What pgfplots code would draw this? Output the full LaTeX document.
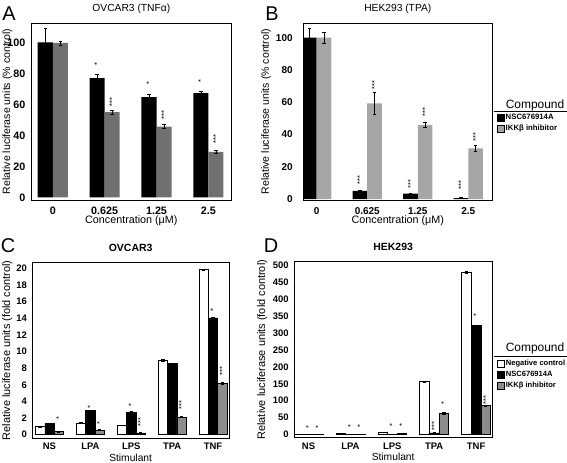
\documentclass[border=0pt]{standalone}
\usepackage{fontspec}
\setmainfont{Liberation Sans}
\usepackage{pgfplots}
\pgfplotsset{compat=1.18}
\definecolor{grayA}{HTML}{707070}
\definecolor{grayB}{HTML}{A6A6A6}
\definecolor{grayC}{HTML}{8C8C8C}
\pgfplotsset{
  panel/.style={
    scale only axis, ybar,
    axis line style={line width=0.9bp},
    major tick length=0pt,
    /pgf/number format/assume math mode=true,
    enlarge x limits=false,
    title style={at={(axis description cs:0.5,1)}, anchor=center, yshift=8.5bp},
    xlabel style={at={(axis description cs:0.5,0)}, anchor=center},
    ylabel style={anchor=center},
    yticklabel style={anchor=east, inner sep=0pt},
    xticklabel style={anchor=center, inner sep=0pt},
  },
  eb/.style={error bars/y dir=both, error bars/y explicit,
    error bars/error bar style={line width=0.6bp, black},
    error bars/error mark options={rotate=90, mark size=1.7bp, line width=0.6bp, black}},
  stars/.style={draw=none, fill=none, forget plot, nodes near coords,
    point meta=explicit symbolic,
    every node near coord/.append style={rotate=90, anchor=west, inner sep=0pt,
      font=\fontsize{7.5}{7.5}\selectfont}},
  lgimg/.style={legend image code/.code={\draw[##1] (0bp,-3.5bp) rectangle (7bp,3.5bp);}},
}
\begin{document}
\begin{tikzpicture}[x=1bp,y=1bp]
\path[use as bounding box] (0,0) rectangle (567,463);

% ---------------- Panel A ----------------
\begin{axis}[panel, at={(31bp,263bp)}, anchor=south west,
  width=200.7bp, height=177bp,
  xmin=-0.42, xmax=3.45, ymin=-1.7, ymax=112.5,
  bar width=0.29,
  xtick={0,1,2,3}, xticklabels={0,0.625,1.25,2.5},
  ytick={0,20,40,60,80,100},
  tick label style={font=\bfseries\fontsize{10.8}{10.8}\selectfont},
  yticklabel style={xshift=-5.5bp},
  xticklabel style={yshift=-10.7bp},
  title={OVCAR3 (TNFα)}, title style={font=\fontsize{10.3}{10.3}\selectfont},
  xlabel={Concentration (μM)}, xlabel style={font=\fontsize{10.8}{10.8}\selectfont, yshift=-21bp},
  ylabel={Relative luciferase units (\% control)},
  ylabel style={at={(axis description cs:-0.118,0.5)}, font=\fontsize{10.6}{10.6}\selectfont},
]
\addplot[fill=black, draw=none, bar shift=-0.145, eb] table[x=x, y=y, y error=e] {
x y e
0 100 8.8
1 76.9 2.8
2 64.7 1.5
3 67.2 1.2
};
\addplot[fill=grayA, draw=none, bar shift=0.145, eb] table[x=x, y=y, y error=e] {
x y e
0 99.6 1.2
1 55.0 1.2
2 45.7 1.2
3 29.3 1.0
};
\addplot[stars, bar shift=-0.145] table[x=x, y=y, meta=m] {
x y m
1 85 *
2 72.5 *
3 74 *
};
\addplot[stars, bar shift=0.145] table[x=x, y=y, meta=m] {
x y m
1 58.6 ***
2 50 ***
3 34.5 ***
};
\end{axis}

% ---------------- Panel B ----------------
\begin{axis}[panel, at={(303.3bp,263bp)}, anchor=south west,
  width=189bp, height=176.7bp,
  xmin=-0.265, xmax=3.475, ymin=-0.6, ymax=108.9,
  bar width=0.29,
  xtick={0,1,2,3}, xticklabels={0,0.625,1.25,2.5},
  ytick={0,20,40,60,80,100},
  tick label style={font=\bfseries\fontsize{10}{10}\selectfont},
  yticklabel style={xshift=-10.5bp},
  xticklabel style={yshift=-10.7bp},
  title={HEK293 (TPA)}, title style={font=\fontsize{10.3}{10.3}\selectfont},
  xlabel={Concentration (μM)}, xlabel style={font=\fontsize{10.8}{10.8}\selectfont, yshift=-21bp},
  ylabel={Relative luciferase units (\% control)},
  ylabel style={at={(axis description cs:-0.197,0.5)}, font=\fontsize{10.6}{10.6}\selectfont},
  legend style={at={(axis description cs:1.025,0.4935)}, anchor=north west,
    draw=none, fill=none, inner sep=0pt, row sep=1.8bp,
    nodes={inner sep=1.1bp}, font=\bfseries\fontsize{7.8}{7.8}\selectfont},
  legend cell align=left,
]
\addplot[fill=black, draw=none, bar shift=-0.145, lgimg, eb] table[x=x, y=y, y error=e] {
x y e
0 100 5.8
1 5.0 0.5
2 3.3 0.3
3 0.6 0.2
};
\addlegendentry{NSC676914A}
\addplot[fill=grayB, draw=none, bar shift=0.145, lgimg, eb] table[x=x, y=y, y error=e] {
x y e
0 100 3.5
1 59.3 6.6
2 45.9 1.7
3 31.4 1.7
};
\addlegendentry{IKKβ inhibitor}
\addplot[stars, bar shift=-0.145] table[x=x, y=y, meta=m] {
x y m
1 8.7 ***
2 6.6 ***
3 5.6 ***
};
\addplot[stars, bar shift=0.145] table[x=x, y=y, meta=m] {
x y m
1 67.6 ***
2 51 ***
3 35.5 ***
};
\end{axis}

% ---------------- Panel C ----------------
\begin{axis}[panel, at={(32.3bp,25bp)}, anchor=south west,
  width=196.7bp, height=175.3bp,
  xmin=-0.42, xmax=4.39, ymin=-0.4, ymax=20.7,
  bar width=0.227,
  xtick={0,1,2,3,4}, xticklabels={NS,LPA,LPS,TPA,TNF},
  ytick={0,2,...,20},
  tick label style={font=\bfseries\fontsize{9.5}{9.5}\selectfont},
  yticklabel style={xshift=-5.3bp},
  xticklabel style={yshift=-8.7bp},
  title={OVCAR3}, title style={font=\bfseries\fontsize{10.5}{10.5}\selectfont},
  xlabel={Stimulant}, xlabel style={font=\fontsize{10.3}{10.3}\selectfont, yshift=-19.5bp},
  ylabel={Relative luciferase units (fold control)},
  ylabel style={at={(axis description cs:-0.127,0.5)}, font=\fontsize{11}{11}\selectfont},
]
\addplot[fill=white, draw=black, line width=0.6bp, bar shift=-0.227, eb] table[x=x, y=y, y error=e] {
x y e
0 0.95 0.05
1 1.40 0.03
2 1.12 0.03
3 8.96 0.08
4 19.85 0.08
};
\addplot[fill=black, draw=black, line width=0.6bp, bar shift=0, eb] table[x=x, y=y, y error=e] {
x y e
0 1.36 0.05
1 2.88 0.05
2 2.72 0.05
3 8.62 0.03
4 14.05 0.05
};
\addplot[fill=grayC, draw=black, line width=0.6bp, bar shift=0.227, eb] table[x=x, y=y, y error=e] {
x y e
0 0.36 0.08
1 0.55 0.05
2 0.22 0.03
3 2.12 0.08
4 6.20 0.08
};
\addplot[stars, bar shift=0] table[x=x, y=y, meta=m] {
x y m
1 3.1 *
2 3.4 *
4 14.8 *
};
\addplot[stars, bar shift=0.227] table[x=x, y=y, meta=m] {
x y m
0 1.8 *
1 1.2 *
2 1.0 ***
3 3.0 ***
4 7.1 ***
};
\end{axis}

% ---------------- Panel D ----------------
\begin{axis}[panel, at={(294.3bp,25.3bp)}, anchor=south west,
  width=197.7bp, height=176bp,
  xmin=-0.34, xmax=4.38, ymin=-10, ymax=512,
  bar width=0.23,
  xtick={0,1,2,3,4}, xticklabels={NS,LPA,LPS,TPA,TNF},
  ytick={0,50,...,500},
  tick label style={font=\bfseries\fontsize{9.5}{9.5}\selectfont},
  yticklabel style={xshift=-5.5bp},
  xticklabel style={yshift=-9bp},
  title={HEK293}, title style={font=\bfseries\fontsize{10.5}{10.5}\selectfont},
  xlabel={Stimulant}, xlabel style={font=\fontsize{10.3}{10.3}\selectfont, yshift=-19.6bp},
  ylabel={Relative luciferase units (fold control)},
  ylabel style={at={(axis description cs:-0.162,0.5)}, font=\fontsize{11}{11}\selectfont},
  legend style={at={(axis description cs:1.025,0.448)}, anchor=north west,
    draw=none, fill=none, inner sep=0pt, row sep=1.8bp,
    nodes={inner sep=1.1bp}, font=\bfseries\fontsize{7.6}{7.6}\selectfont},
  legend cell align=left,
]
\addplot[fill=white, draw=black, line width=0.6bp, bar shift=-0.23, lgimg, eb] table[x=x, y=y, y error=e] {
x y e
0 1 0.3
1 4 0.5
2 6 0.5
3 156 1.5
4 481 2
};
\addlegendentry{Negative control}
\addplot[fill=black, draw=black, line width=0.6bp, bar shift=0, lgimg, eb] table[x=x, y=y, y error=e] {
x y e
0 0.5 0.2
1 0.5 0.2
2 0.5 0.2
3 4 1
4 322 2
};
\addlegendentry{NSC676914A}
\addplot[fill=grayC, draw=black, line width=0.6bp, bar shift=0.23, lgimg, eb] table[x=x, y=y, y error=e] {
x y e
0 0.5 0.2
1 0.5 0.2
2 2 0.5
3 63 3
4 85 2
};
\addlegendentry{IKKβ inhibitor}
\addplot[stars, bar shift=0] table[x=x, y=y, meta=m] {
x y m
0 17 *
1 20 *
2 22 *
3 10 ***
4 350 *
};
\addplot[stars, bar shift=0.23] table[x=x, y=y, meta=m] {
x y m
0 17 *
1 20 *
2 22 *
3 89 *
4 89 ***
};
\end{axis}

% legend titles and rules
\node[font=\fontsize{12}{12}\selectfont] at (535,358) {Compound};
\draw[line width=0.8bp] (494,352) -- (567,352);
\node[font=\fontsize{12}{12}\selectfont] at (535,115) {Compound};
\draw[line width=0.8bp] (494,106.5) -- (567,106.5);

% panel letters
\node[font=\fontsize{20}{20}\selectfont] at (9,449) {A};
\node[font=\fontsize{20}{20}\selectfont] at (272,449) {B};
\node[font=\fontsize{20}{20}\selectfont] at (8,217) {C};
\node[font=\fontsize{20}{20}\selectfont] at (271,217) {D};
\end{tikzpicture}
\end{document}
